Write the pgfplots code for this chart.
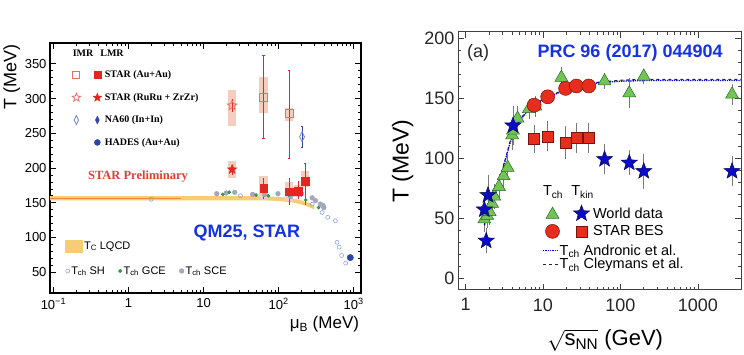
\documentclass[border=0pt]{standalone}
\usepackage{pgfplots}
\pgfplotsset{compat=1.18}
\usepackage{fontspec}
\setmainfont{Liberation Sans}
\newfontfamily\seriff{Liberation Serif}

\definecolor{starred}{RGB}{228,38,32}
\definecolor{starlight}{RGB}{236,110,100}
\definecolor{systbox}{RGB}{245,205,190}
\definecolor{na60}{RGB}{50,70,170}
\definecolor{na60light}{RGB}{110,130,210}
\definecolor{hades}{RGB}{40,70,165}
\definecolor{shblue}{RGB}{140,165,225}
\definecolor{gcegreen}{RGB}{50,150,70}
\definecolor{scegray}{RGB}{165,165,190}
\definecolor{lqcd}{RGB}{245,205,115}
\definecolor{lqcdline}{RGB}{232,140,60}
\definecolor{tgreen}{RGB}{115,195,85}
\definecolor{tgreendark}{RGB}{40,110,40}
\definecolor{starblue}{RGB}{10,10,200}
\definecolor{stardark}{RGB}{10,10,90}
\definecolor{bescircle}{RGB}{230,45,30}
\definecolor{besdark}{RGB}{120,20,10}
\definecolor{qmblue}{RGB}{20,50,230}
\definecolor{errgray}{RGB}{120,120,120}

\pgfdeclareplotmark{fivestar}{%
  \pgfpathmoveto{\pgfpointpolar{90}{\pgfplotmarksize}}%
  \pgfpathlineto{\pgfpointpolar{126}{0.42*\pgfplotmarksize}}%
  \pgfpathlineto{\pgfpointpolar{162}{\pgfplotmarksize}}%
  \pgfpathlineto{\pgfpointpolar{198}{0.42*\pgfplotmarksize}}%
  \pgfpathlineto{\pgfpointpolar{234}{\pgfplotmarksize}}%
  \pgfpathlineto{\pgfpointpolar{270}{0.42*\pgfplotmarksize}}%
  \pgfpathlineto{\pgfpointpolar{306}{\pgfplotmarksize}}%
  \pgfpathlineto{\pgfpointpolar{342}{0.42*\pgfplotmarksize}}%
  \pgfpathlineto{\pgfpointpolar{18}{\pgfplotmarksize}}%
  \pgfpathlineto{\pgfpointpolar{54}{0.42*\pgfplotmarksize}}%
  \pgfpathclose\pgfusepathqfillstroke}
\pgfdeclareplotmark{fivestaropen}{%
  \pgfpathmoveto{\pgfpointpolar{90}{\pgfplotmarksize}}%
  \pgfpathlineto{\pgfpointpolar{126}{0.42*\pgfplotmarksize}}%
  \pgfpathlineto{\pgfpointpolar{162}{\pgfplotmarksize}}%
  \pgfpathlineto{\pgfpointpolar{198}{0.42*\pgfplotmarksize}}%
  \pgfpathlineto{\pgfpointpolar{234}{\pgfplotmarksize}}%
  \pgfpathlineto{\pgfpointpolar{270}{0.42*\pgfplotmarksize}}%
  \pgfpathlineto{\pgfpointpolar{306}{\pgfplotmarksize}}%
  \pgfpathlineto{\pgfpointpolar{342}{0.42*\pgfplotmarksize}}%
  \pgfpathlineto{\pgfpointpolar{18}{\pgfplotmarksize}}%
  \pgfpathlineto{\pgfpointpolar{54}{0.42*\pgfplotmarksize}}%
  \pgfpathclose\pgfusepathqstroke}

\pgfplotsset{
  grayerr/.style={error bars/.cd, y dir=both, y explicit,
    error bar style={draw=errgray, color=errgray, line width=0.6pt},
    error mark options={draw=errgray, color=errgray, mark size=3pt, line width=0.6pt}},
  redbar/.style={draw=starred, line width=0.8pt, forget plot, unbounded coords=jump, mark=none},
}

\begin{document}
\begin{tikzpicture}
\path[use as bounding box] (0pt,0pt) rectangle (744pt,355pt);

% ================= LEFT PANEL =================
\begin{axis}[
  at={(50pt,62pt)}, anchor=south west,
  scale only axis, width=311pt, height=250pt,
  xmode=log, xmin=0.09, xmax=1250, ymin=20, ymax=380,
  xtick={0.1,1,10,100,1000},
  xticklabels={10\textsuperscript{−1},1,10,10\textsuperscript{2},10\textsuperscript{3}},
  ytick={50,100,...,350}, minor y tick num=4,
  tick align=inside, major tick length=6pt, minor tick length=3pt,
  axis line style={line width=1.3pt},
  major tick style={line width=0.8pt, black},
  minor tick style={line width=0.6pt, black},
  tick label style={font=\fontsize{13}{15}\selectfont},
  xticklabel style={yshift=-2pt},
  /pgf/number format/assume math mode=true,
  ylabel={T (MeV)},
  ylabel style={font=\fontsize{18}{20}\selectfont, at={(axis description cs:-0.085,0.865)}, anchor=south},
  xlabel={μ\textsubscript{B} (MeV)},
  xlabel style={font=\fontsize{17}{19}\selectfont, at={(axis description cs:1.005,-0.08)}, anchor=north east},
  legend style={at={(axis description cs:0.068,0.895)}, anchor=north west, draw=none, fill=none,
    inner sep=0pt, row sep=11pt, nodes={inner sep=1.5pt},
    font=\seriff\bfseries\fontsize{10}{12}\selectfont},
  legend cell align=left,
]
% legend images
\addlegendimage{legend image code/.code={
  \path[draw=none, fill=none] (-5pt,-5pt) rectangle (27pt,5pt);
  \path[draw=starlight, fill=none, line width=0.8pt] plot[only marks, mark=square, mark size=3.5pt] coordinates {(0pt,0pt)};
  \path[draw=starred, fill=starred] plot[only marks, mark=square*, mark size=3.5pt] coordinates {(21pt,0pt)};}}
\addlegendentry{STAR (Au+Au)}
\addlegendimage{legend image code/.code={
  \path[draw=none, fill=none] (-5pt,-5pt) rectangle (27pt,5pt);
  \path[draw=starlight, fill=none, line width=0.8pt] plot[only marks, mark=fivestaropen, mark size=4.5pt] coordinates {(0pt,0pt)};
  \path[draw=starred, fill=starred] plot[only marks, mark=fivestar, mark size=4.5pt] coordinates {(21pt,0pt)};}}
\addlegendentry{STAR (RuRu + ZrZr)}
\addlegendimage{legend image code/.code={
  \path[draw=none, fill=none] (-5pt,-5pt) rectangle (27pt,5pt);
  \path[draw=na60light, fill=none, line width=0.8pt] plot[only marks, mark=diamond, mark size=4.5pt, mark options={xscale=0.65}] coordinates {(0pt,0pt)};
  \path[draw=na60, fill=na60] plot[only marks, mark=diamond*, mark size=4pt, mark options={xscale=0.65}] coordinates {(21pt,0pt)};}}
\addlegendentry{NA60 (In+In)}
\addlegendimage{legend image code/.code={
  \path[draw=none, fill=none] (-5pt,-5pt) rectangle (27pt,5pt);
  \path[draw=hades, fill=hades] plot[only marks, mark=*, mark size=3pt] coordinates {(21pt,0pt)};}}
\addlegendentry{HADES (Au+Au)}

% LQCD band
\addplot[fill=lqcd, draw=none, forget plot] coordinates {
  (0.09,159.5) (60,159.5) (100,158.5) (150,156.5) (200,153.5) (250,150) (300,146)
  (300,140) (250,144) (200,147.5) (150,150.5) (100,152.5) (60,153.5) (0.09,153.5)} --cycle;
\addplot[lqcdline, line width=1.3pt, forget plot] coordinates {(0.09,156.5) (5,156.5)};

% systematic boxes
\addplot[fill=systbox, draw=none, forget plot] coordinates {(55.5,279) (71.5,279) (71.5,331) (55.5,331)} --cycle;
\addplot[fill=systbox, draw=none, forget plot] coordinates {(55.5,155) (71.5,155) (71.5,188) (55.5,188)} --cycle;
\addplot[fill=systbox, draw=none, forget plot] coordinates {(121.6,268) (156.6,268) (156.6,287) (121.6,287)} --cycle;
\addplot[fill=systbox, draw=none, forget plot] coordinates {(121.6,152) (156.6,152) (156.6,180) (121.6,180)} --cycle;
\addplot[fill=systbox, draw=none, forget plot] coordinates {(160,158) (206,158) (206,176) (160,176)} --cycle;
\addplot[fill=systbox, draw=none, forget plot] coordinates {(198,172) (255,172) (255,195) (198,195)} --cycle;
\addplot[fill=systbox, draw=none, forget plot] coordinates {(21.1,260) (27.2,260) (27.2,313) (21.1,313)} --cycle;
\addplot[fill=systbox, draw=none, forget plot] coordinates {(21.1,185) (27.2,185) (27.2,210) (21.1,210)} --cycle;

% statistical error bars (vertical segments, low to high)
\addplot[redbar] coordinates {(63,242) (63,362)};
\addplot[redbar] coordinates {(138,214) (138,341)};
\addplot[redbar] coordinates {(24,280) (24,300)};
\addplot[redbar] coordinates {(24,190) (24,204)};
\addplot[redbar] coordinates {(63,156) (63,186)};
\addplot[redbar] coordinates {(138,146) (138,186)};
\addplot[redbar] coordinates {(182,155) (182,181)};
\addplot[redbar] coordinates {(225,147) (225,207)};
\addplot[draw=na60, line width=0.8pt, forget plot] coordinates {(205,229) (205,260)};
% caps
\addplot[redbar] coordinates {(60.5,362) (65.6,362)};
\addplot[redbar] coordinates {(60.5,242) (65.6,242)};
\addplot[redbar] coordinates {(132.5,341) (143.7,341)};
\addplot[redbar] coordinates {(132.5,214) (143.7,214)};
\addplot[redbar] coordinates {(216,207) (234,207)};
\addplot[draw=na60, line width=0.8pt, forget plot] coordinates {(197,260) (213,260)};
\addplot[draw=na60, line width=0.8pt, forget plot] coordinates {(197,229) (213,229)};

% T_ch SCE (gray)
\addplot[only marks, mark=*, mark size=2.4pt, draw=scegray, fill=scegray, forget plot] coordinates {
  (15,163) (20,164) (26,165) (45,162) (65,162) (98,163) (145,159) (200,163) (280,157) (310,153) (360,148) (390,146) (400,143)};
% T_ch GCE (green)
\addplot[only marks, mark=*, mark size=1.6pt, draw=gcegreen, fill=gcegreen, forget plot] coordinates {
  (18,162) (22,165) (50,161) (73,160) (137,161) (230,154) (340,143)};
% T_ch SH (open blue)
\addplot[only marks, mark=o, mark size=2pt, draw=shblue, line width=0.6pt, forget plot] coordinates {
  (2,155) (31,160) (280,148) (380,136) (450,129) (570,124) (600,93) (640,86) (690,74) (780,63)};
% HADES
\addplot[only marks, mark=*, mark size=3.2pt, draw=hades, fill=hades, forget plot] coordinates {(900,71)};
% NA60
\addplot[only marks, mark=diamond*, mark size=3.5pt, mark options={xscale=0.65}, draw=na60, fill=na60, forget plot] coordinates {(200,164)};
\addplot[only marks, mark=diamond, mark size=5pt, mark options={xscale=0.65, line width=0.8pt, draw=na60light, fill=white}, forget plot]
  coordinates {(205,245)};
% STAR open squares (IMR)
\addplot[only marks, mark=square, mark size=4pt, mark options={line width=0.8pt, draw=starlight, fill=white}, forget plot]
  coordinates {(63,302) (138,278)};
% STAR open star (IMR RuRu)
\addplot[only marks, mark=fivestaropen, mark size=5pt, mark options={line width=0.8pt, draw=starlight}, forget plot]
  coordinates {(24,290)};
% STAR filled star (LMR RuRu)
\addplot[only marks, mark=fivestar, mark size=5pt, mark options={draw=starred, fill=starred}, forget plot]
  coordinates {(24,198)};
% STAR filled squares (LMR)
\addplot[only marks, mark=square*, mark size=3.8pt, mark options={draw=starred, fill=starred}, forget plot]
  coordinates {(63,171) (138,166) (182,167) (225,181)};

\node[font=\seriff\bfseries\fontsize{12.5}{14}\selectfont, text=starred!90] at (axis description cs:0.283,0.464) {STAR Preliminary};
\node[font=\bfseries\fontsize{18}{20}\selectfont, text=qmblue] at (axis description cs:0.633,0.24) {QM25, STAR};
\node[font=\seriff\bfseries\fontsize{10}{12}\selectfont, anchor=west] at (axis description cs:0.062,0.96) {IMR\hspace{7pt}LMR};
\node[font=\bfseries\fontsize{14}{16}\selectfont] at (axis description cs:0.434,1.124) {Thermal Di-Lepton};
\end{axis}

% lower-left legends (overlay axes)
\begin{axis}[
  at={(50pt,62pt)}, anchor=south west, scale only axis, width=311pt, height=250pt,
  hide axis, xmin=0, xmax=1, ymin=0, ymax=1,
  legend style={at={(axis description cs:0.048,0.188)}, anchor=west, draw=none, fill=none,
    inner sep=0pt, nodes={inner sep=1.5pt}, font=\fontsize{11}{13}\selectfont},
  legend cell align=left,
]
\addlegendimage{legend image code/.code={\fill[lqcd] (0pt,-6pt) rectangle (17pt,6pt);}}
\addlegendentry{T\textsubscript{C} LQCD}
\end{axis}
\begin{axis}[
  at={(50pt,62pt)}, anchor=south west, scale only axis, width=311pt, height=250pt,
  hide axis, xmin=0, xmax=1, ymin=0, ymax=1,
  legend columns=3,
  legend style={at={(axis description cs:0.05,0.088)}, anchor=west, draw=none, fill=none,
    inner sep=0pt, nodes={inner sep=1.5pt}, font=\fontsize{11}{13}\selectfont,
    /tikz/every even column/.append style={column sep=12pt}},
  legend cell align=left,
]
\addlegendimage{legend image code/.code={\path[draw=shblue, fill=none, line width=0.6pt] plot[only marks, mark=o, mark size=2pt] coordinates {(0pt,0pt)};}}
\addlegendentry{T\textsubscript{ch} SH}
\addlegendimage{legend image code/.code={\path[draw=gcegreen, fill=gcegreen] plot[only marks, mark=*, mark size=1.8pt] coordinates {(0pt,0pt)};}}
\addlegendentry{T\textsubscript{ch} GCE}
\addlegendimage{legend image code/.code={\path[draw=scegray, fill=scegray] plot[only marks, mark=*, mark size=2.4pt] coordinates {(0pt,0pt)};}}
\addlegendentry{T\textsubscript{ch} SCE}
\end{axis}

% ================= RIGHT PANEL =================
\begin{axis}[
  at={(458pt,65pt)}, anchor=south west,
  scale only axis, width=283pt, height=258pt,
  xmode=log, xmin=0.8, xmax=3600, ymin=-10, ymax=205,
  xtick={1,10,100,1000}, xticklabels={1,10,100,1000},
  ytick={0,50,...,200}, minor y tick num=4,
  tick align=inside, major tick length=6pt, minor tick length=3pt,
  axis line style={line width=1pt, black!75},
  major tick style={line width=0.7pt, black!75},
  minor tick style={line width=0.6pt, black!75},
  tick label style={font=\fontsize{18}{20}\selectfont, text=black!85},
  xticklabel style={yshift=-5pt},
  /pgf/number format/assume math mode=true,
  ylabel={T (MeV)},
  ylabel style={font=\fontsize{23}{25}\selectfont, at={(axis description cs:-0.145,0.5)}, anchor=south},
  xlabel={$\sqrt{\hbox{s\textsubscript{NN}}}$ (GeV)},
  xlabel style={font=\fontsize{22}{24}\selectfont, at={(axis description cs:0.52,-0.14)}, anchor=north},
  legend style={at={(axis description cs:0.305,0.33)}, anchor=north west, draw=none, fill=none,
    inner sep=0pt, row sep=1pt, nodes={inner sep=2.5pt}, font=\fontsize{14.5}{16}\selectfont},
  legend cell align=left,
]
\addlegendimage{legend image code/.code={
  \path[draw=none, fill=none] (-8pt,-7pt) rectangle (38pt,7pt);
  \path[draw=tgreendark, fill=tgreen, line width=0.5pt] plot[only marks, mark=triangle*, mark size=7.5pt] coordinates {(0pt,-1pt)};
  \path[draw=stardark, fill=starblue, line width=0.5pt] plot[only marks, mark=fivestar, mark size=8.5pt] coordinates {(29pt,0pt)};}}
\addlegendentry{World data}
\addlegendimage{legend image code/.code={
  \path[draw=none, fill=none] (-8pt,-7pt) rectangle (38pt,7pt);
  \path[draw=besdark, fill=bescircle, line width=0.5pt] plot[only marks, mark=*, mark size=7pt] coordinates {(0pt,0pt)};
  \path[draw=besdark, fill=bescircle, line width=0.5pt] plot[only marks, mark=square*, mark size=5.5pt] coordinates {(29pt,0pt)};}}
\addlegendentry{STAR BES}

% triangles: T_ch world
\addplot[color=errgray, only marks, mark=triangle*, mark size=7.5pt, mark options={draw=tgreendark, fill=tgreen, line width=0.5pt}, forget plot, grayerr]
  coordinates {
  (1.75,49) +- (0,8) (1.9,52) +- (0,8) (2.05,55) +- (0,8) (2.2,62) +- (0,8) (2.35,68) +- (0,8)
  (2.7,76) +- (0,8) (3.1,85) +- (0,8) (3.5,92) +- (0,8) (4.0,119) +- (0,10) (4.1,123) +- (0,10)
  (4.7,133) +- (0,8) (6.6,141) +- (0,6) (8,143) +- (0,6) (17.3,167) +- (0,6) (62.4,164) +- (0,4)
  (130,154) +- (0,10) (200,168) +- (0,4) (2760,153) +- (0,6)};
% stars: T_kin world
\addplot[color=errgray, only marks, mark=fivestar, mark size=8.5pt, mark options={draw=stardark, fill=starblue, line width=0.5pt}, forget plot, grayerr]
  coordinates {
  (1.85,31) +- (0,8) (1.75,57) +- (0,12) (1.95,69) +- (0,14) (4.1,127) +- (0,14)
  (62.4,99) +- (0,10) (130,96) +- (0,8) (200,89) +- (0,12) (2760,89) +- (0,10)};
% squares: STAR BES T_kin
\addplot[color=errgray, only marks, mark=square*, mark size=5.5pt, mark options={draw=besdark, fill=bescircle, line width=0.5pt}, forget plot, grayerr]
  coordinates {(7.7,116) +- (0,9) (11.5,118) +- (0,10) (19.6,113) +- (0,11) (27,117) +- (0,10) (39,117) +- (0,10)};
% circles: STAR BES T_ch
\addplot[only marks, mark=*, mark size=7pt, mark options={draw=besdark, fill=bescircle, line width=0.5pt}, forget plot]
  coordinates {(7.7,144) (11.5,151) (19.6,158) (27,160) (39,160)};
% model curves
\addplot[black!85, dashed, line width=1.1pt, forget plot] coordinates {
  (1.75,45) (2.0,54) (2.3,65) (2.7,80) (3.2,97) (3.7,112) (4.2,123) (5,132) (6,138) (7.7,144)
  (10,149) (12.5,152) (20,157.5) (30,160.5) (50,163) (100,164.8) (200,165.5) (3600,165.5)};
\addplot[blue!85!black, densely dotted, line width=1.3pt, forget plot] coordinates {
  (1.75,44) (2.0,53) (2.3,64) (2.7,79) (3.2,96) (3.7,111) (4.2,122) (5,131) (6,137.5) (7.7,143.5)
  (10,148.5) (12.5,151.5) (20,157) (30,160) (50,162.5) (100,164) (200,164.5) (3600,164.5)};

\node[font=\fontsize{18}{20}\selectfont, text=black!85] at (axis description cs:0.071,0.919) {(a)};
\node[font=\bfseries\fontsize{18}{20}\selectfont, text=qmblue] at (axis description cs:0.608,0.919) {PRC 96 (2017) 044904};
\node[font=\fontsize{14.5}{16}\selectfont] at (axis description cs:0.336,0.38) {T\textsubscript{ch}};
\node[font=\fontsize{14.5}{16}\selectfont] at (axis description cs:0.44,0.38) {T\textsubscript{kin}};
\node[font=\bfseries\fontsize{14}{16}\selectfont] at (axis description cs:0.558,1.078) {Chemical \& Kinetic Thermal F.O.};
\end{axis}

% right line legend overlay
\begin{axis}[
  at={(458pt,65pt)}, anchor=south west, scale only axis, width=283pt, height=258pt,
  hide axis, xmin=0, xmax=1, ymin=0, ymax=1,
  legend style={at={(axis description cs:0.298,0.18)}, anchor=north west, draw=none, fill=none,
    inner sep=0pt, row sep=0pt, nodes={inner sep=0.8pt}, font=\fontsize{14.5}{15}\selectfont},
  legend cell align=left,
]
\addlegendimage{legend image code/.code={\path[draw=none, fill=none] (0pt,-3pt) rectangle (15pt,3pt);
  \draw[blue!85!black, densely dotted, line width=1.3pt] (0pt,0pt) -- (15pt,0pt);}}
\addlegendentry{T\textsubscript{ch} Andronic et al.}
\addlegendimage{legend image code/.code={\path[draw=none, fill=none] (0pt,-3pt) rectangle (15pt,3pt);
  \draw[black!85, dashed, line width=1.1pt] (0pt,0pt) -- (15pt,0pt);}}
\addlegendentry{T\textsubscript{ch} Cleymans et al.}
\end{axis}
\end{tikzpicture}
\end{document}
